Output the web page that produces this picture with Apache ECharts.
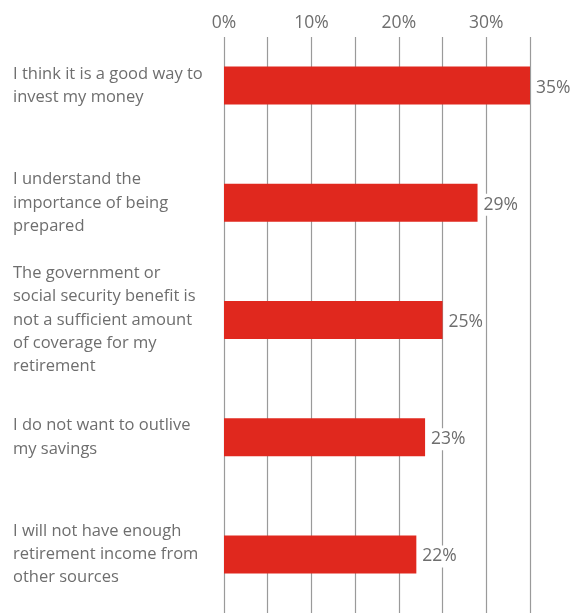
<!DOCTYPE html>
<html>
<head>
<meta charset="utf-8">
<script src="https://cdn.jsdelivr.net/npm/echarts@6/dist/echarts.min.js"></script>
<style>
  html, body { margin: 0; padding: 0; background: #ffffff; }
  #chart { width: 578px; height: 613px; }
</style>
</head>
<body>
<div id="chart"></div>
<script>
// Reasons for saving, share of respondents (%)
const categories = [
  'I think it is a good way to\ninvest my money',
  'I understand the\nimportance of being\nprepared',
  'The government or\nsocial security benefit is\nnot a sufficient amount\nof coverage for my\nretirement',
  'I do not want to outlive\nmy savings',
  'I will not have enough\nretirement income from\nother sources'
];
const values = [35, 29, 25, 23, 22];
const tickLabels = ['0%', '10%', '20%', '30%'];

const textColor = '#6e6e6e';
const fontFamily = '"Open Sans", "Noto Sans", sans-serif';

const chart = echarts.init(document.getElementById('chart'), null, { renderer: 'canvas' });

chart.setOption({
  animation: false,
  grid: [
    // bars
    { left: 224, right: 48, top: 27, bottom: -3 },
    // gridlines + top tick labels
    { left: 224, right: 48, top: 37, bottom: 0 }
  ],
  xAxis: [
    {
      gridIndex: 0, type: 'value', min: 0, max: 35, interval: 5,
      axisLine: { show: false }, axisTick: { show: false },
      axisLabel: { show: false }, splitLine: { show: false }
    },
    {
      gridIndex: 1, type: 'value', position: 'top', min: 0, max: 35, interval: 5,
      axisLine: { show: false }, axisTick: { show: false },
      splitLine: { show: true, lineStyle: { color: '#9a9a9a', width: 1.2 } },
      axisLabel: {
        margin: 5,
        color: textColor, fontSize: 17.5, fontFamily: fontFamily,
        formatter: function (v) {
          const s = v + '%';
          return tickLabels.indexOf(s) >= 0 ? s : '';
        }
      }
    }
  ],
  yAxis: [
    {
      gridIndex: 0, type: 'category', data: categories, inverse: true,
      axisLine: { show: false }, axisTick: { show: false }, splitLine: { show: false },
      axisLabel: {
        align: 'left', margin: 211,
        color: textColor, fontSize: 16.5, lineHeight: 23.3, fontFamily: fontFamily
      }
    },
    {
      gridIndex: 1, type: 'value', show: false, min: 0, max: 1
    }
  ],
  series: [
    {
      type: 'bar',
      xAxisIndex: 0, yAxisIndex: 0,
      data: values,
      barWidth: 38,
      itemStyle: { color: '#e0281e' },
      z: 3,
      label: {
        show: true, position: 'right', distance: 4, offset: [0, 2],
        formatter: '{c}%',
        color: textColor, fontSize: 17.5, fontFamily: fontFamily,
        backgroundColor: '#ffffff', padding: [2, 2, 2, 2]
      }
    }
  ]
});
</script>
</body>
</html>
